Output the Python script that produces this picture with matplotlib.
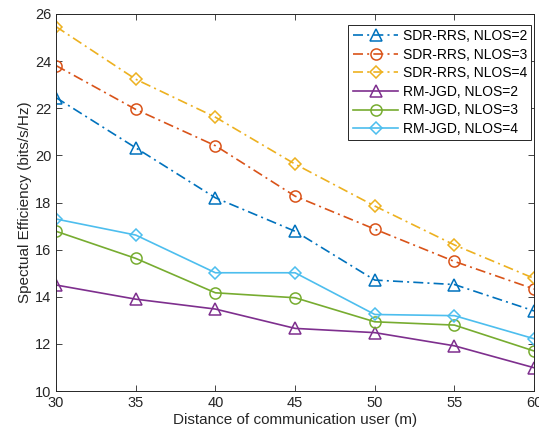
import matplotlib
matplotlib.use("Agg")
import matplotlib.pyplot as plt

plt.rcParams['font.family'] = ['Liberation Sans', 'DejaVu Sans']

distance = [30, 35, 40, 45, 50, 55, 60]

sdr_nlos2 = [22.45, 20.32, 18.2, 16.78, 14.71, 14.52, 13.4]
sdr_nlos3 = [23.81, 21.95, 20.41, 18.27, 16.87, 15.5, 14.33]
sdr_nlos4 = [25.46, 23.23, 21.62, 19.63, 17.85, 16.2, 14.78]
rm_nlos2 = [14.5, 13.9, 13.48, 12.66, 12.48, 11.92, 10.99]
rm_nlos3 = [16.78, 15.63, 14.17, 13.96, 12.94, 12.8, 11.7]
rm_nlos4 = [17.3, 16.62, 15.02, 15.02, 13.25, 13.2, 12.22]

series = [
    (sdr_nlos2, 'SDR-RRS, NLOS=2', '#0072BD', '^', '-.'),
    (sdr_nlos3, 'SDR-RRS, NLOS=3', '#D95319', 'o', '-.'),
    (sdr_nlos4, 'SDR-RRS, NLOS=4', '#EDB120', 'D', '-.'),
    (rm_nlos2, 'RM-JGD, NLOS=2', '#7E2F8E', '^', '-'),
    (rm_nlos3, 'RM-JGD, NLOS=3', '#77AC30', 'o', '-'),
    (rm_nlos4, 'RM-JGD, NLOS=4', '#4DBEEE', 'D', '-'),
]

fig = plt.figure(figsize=(5.39, 4.36), dpi=100)
ax = fig.add_axes([0.104, 0.103, 0.887, 0.865])

for vals, label, color, marker, ls in series:
    ms = 6.5 if marker == 'D' else 8
    ax.plot(distance, vals, ls=ls, color=color, marker=marker, markersize=ms,
            markerfacecolor='none', markeredgewidth=1.1, linewidth=1.2,
            dashes=(6, 2.5, 1.2, 2.5) if ls == '-.' else (None, None),
            label=label)

ax.set_xlim(30, 60)
ax.set_ylim(10, 26)
ax.set_xticks(distance)
ax.set_yticks(range(10, 27, 2))
ax.tick_params(direction='in', top=True, right=True, labelsize=10.5,
               colors='#262626', length=4, width=0.6)
for sp in ax.spines.values():
    sp.set_color('#262626')
    sp.set_linewidth(0.7)

ax.set_xlabel('Distance of communication user (m)', fontsize=11, color='#262626', labelpad=2)
ax.set_ylabel('Spectual Efficiency (bits/s/Hz)', fontsize=11, color='#262626', labelpad=2)

leg = ax.legend(loc='upper right', bbox_to_anchor=(0.9937, 0.9708),
                fontsize=10, fancybox=False, framealpha=1,
                edgecolor='#262626', borderpad=0.3, labelspacing=0.33,
                handlelength=3.3, handletextpad=0.3, borderaxespad=0)
leg.get_frame().set_linewidth(0.7)

fig.savefig('out.png', dpi=100)
